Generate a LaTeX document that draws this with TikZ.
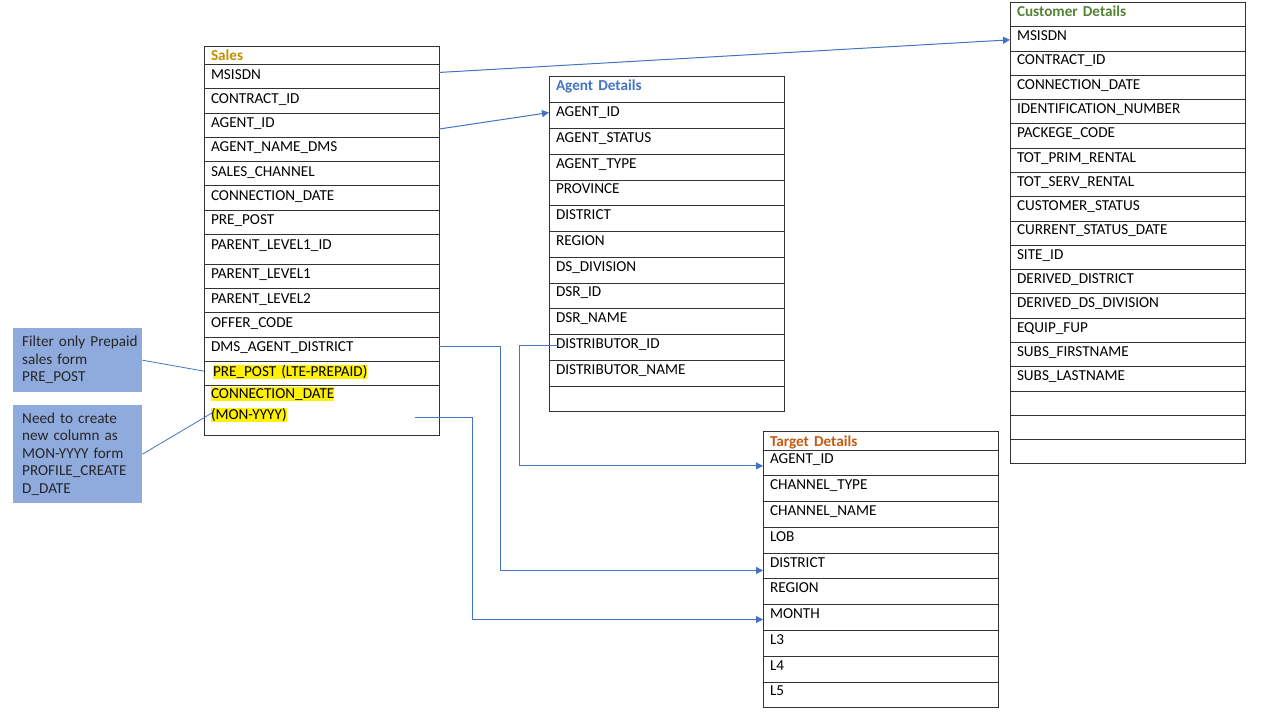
\documentclass[tikz,border=0pt]{standalone}
\usepackage{fontspec}
\setmainfont{Carlito}
\usetikzlibrary{positioning, arrows.meta}

\definecolor{salesgold}{HTML}{BF9000}
\definecolor{agentblue}{HTML}{4472C4}
\definecolor{custgreen}{HTML}{548235}
\definecolor{targetorange}{HTML}{C55A11}
\definecolor{notefill}{HTML}{8FAADC}
\definecolor{linkblue}{HTML}{4472C4}

\newcommand{\hlyellow}[1]{{\setlength{\fboxsep}{0pt}\colorbox{yellow}{\rule[-2.7pt]{0pt}{14pt}#1}}}

\begin{document}
\begin{tikzpicture}[x=1pt, y=-1pt,
     node distance = 0pt,
every node/.style = {font=\fontsize{15.2}{17.5}\selectfont},
field/.style 2 args = {rectangle, draw=black!80, line width=0.8pt,
                     outer sep=0pt, inner xsep=7pt, inner ysep=0pt,
                     text width=221pt, align=left,
                     minimum height=#1, text height=11pt, text depth=#2},
       head/.style = {font=\fontsize{15.2}{17.5}\selectfont\bfseries, text=#1},
       srow/.style = {field={24.3pt}{5.9pt}},
       arow/.style = {field={25.75pt}{8.7pt}},
       crow/.style = {field={24.28pt}{7.3pt}},
       trow/.style = {field={25.77pt}{8.8pt}},
       note/.style = {rectangle, fill=notefill, text=black!85,
                     inner xsep=9pt, inner ysep=0pt, text width=111pt,
                     align=left, minimum height=#1, anchor=north west},
       link/.style = {draw=linkblue, line width=1pt},
                 >= {Triangle[length=7pt,width=7pt]}
                        ]
\useasboundingbox (0,0) rectangle (1280,720);
% Sales
\node (sales) [field={18.3pt}{0pt}, head=salesgold, anchor=north west] at (204,46) {Sales};
\node (smsisdn) [srow, below=of sales] {MSISDN};
\node (scontract) [srow, below=of smsisdn] {CONTRACT\_ID};
\node (sagent) [srow, below=of scontract] {AGENT\_ID};
\node (sname) [srow, below=of sagent] {AGENT\_NAME\_DMS};
\node (schannel) [srow, below=of sname] {SALES\_CHANNEL};
\node (sconn) [srow, below=of schannel] {CONNECTION\_DATE};
\node (sprepost) [srow, below=of sconn] {PRE\_POST};
\node (spl1id) [field={29.7pt}{11.3pt}, below=of sprepost] {PARENT\_LEVEL1\_ID};
\node (spl1) [srow, below=of spl1id] {PARENT\_LEVEL1};
\node (spl2) [srow, below=of spl1] {PARENT\_LEVEL2};
\node (soffer) [srow, below=of spl2] {OFFER\_CODE};
\node (sdms) [srow, below=of soffer] {DMS\_AGENT\_DISTRICT};
\node (sfilter) [srow, below=of sdms] {\hspace{2pt}\hlyellow{PRE\_POST (LTE-PREPAID)}};
\node (smonth) [field={49.7pt}{34.7pt}, font=\fontsize{15.2}{21}\selectfont,
                below=of sfilter] {\hlyellow{CONNECTION\_DATE}\\\hlyellow{(MON-YYYY)}};
% Agent Details
\node (agent) [field={26pt}{9pt}, head=agentblue, anchor=north west] at (549,76.7) {Agent Details};
\node (aid) [arow, below=of agent] {AGENT\_ID};
\node (astatus) [arow, below=of aid] {AGENT\_STATUS};
\node (atype) [arow, below=of astatus] {AGENT\_TYPE};
\node (aprov) [arow, below=of atype] {PROVINCE};
\node (adist) [arow, below=of aprov] {DISTRICT};
\node (aregion) [arow, below=of adist] {REGION};
\node (adsdiv) [arow, below=of aregion] {DS\_DIVISION};
\node (adsrid) [arow, below=of adsdiv] {DSR\_ID};
\node (adsrname) [arow, below=of adsrid] {DSR\_NAME};
\node (adistrib) [arow, below=of adsrname] {DISTRIBUTOR\_ID};
\node (adistname) [arow, below=of adistrib] {DISTRIBUTOR\_NAME};
\node (ablank) [arow, below=of adistname] {};
% Customer Details
\node (cust) [field={24pt}{7pt}, head=custgreen, anchor=north west] at (1010,2.7) {Customer Details};
\node (cmsisdn) [crow, below=of cust] {MSISDN};
\node (ccontract) [crow, below=of cmsisdn] {CONTRACT\_ID};
\node (cconn) [crow, below=of ccontract] {CONNECTION\_DATE};
\node (cidnum) [crow, below=of cconn] {IDENTIFICATION\_NUMBER};
\node (cpack) [crow, below=of cidnum] {PACKEGE\_CODE};
\node (cprim) [crow, below=of cpack] {TOT\_PRIM\_RENTAL};
\node (cserv) [crow, below=of cprim] {TOT\_SERV\_RENTAL};
\node (cstatus) [crow, below=of cserv] {CUSTOMER\_STATUS};
\node (cstdate) [crow, below=of cstatus] {CURRENT\_STATUS\_DATE};
\node (csite) [crow, below=of cstdate] {SITE\_ID};
\node (cddist) [crow, below=of csite] {DERIVED\_DISTRICT};
\node (cddiv) [crow, below=of cddist] {DERIVED\_DS\_DIVISION};
\node (cequip) [crow, below=of cddiv] {EQUIP\_FUP};
\node (cfirst) [crow, below=of cequip] {SUBS\_FIRSTNAME};
\node (clast) [crow, below=of cfirst] {SUBS\_LASTNAME};
\node (cblank1) [crow, below=of clast] {};
\node (cblank2) [crow, below=of cblank1] {};
\node (cblank3) [crow, below=of cblank2] {};
% Target Details
\node (target) [field={18.3pt}{0pt}, head=targetorange, anchor=north west] at (763,431.7) {Target Details};
\node (tagent) [trow, below=of target] {AGENT\_ID};
\node (ttype) [trow, below=of tagent] {CHANNEL\_TYPE};
\node (tname) [trow, below=of ttype] {CHANNEL\_NAME};
\node (tlob) [trow, below=of tname] {LOB};
\node (tdistrict) [trow, below=of tlob] {DISTRICT};
\node (tregion) [trow, below=of tdistrict] {REGION};
\node (tmonth) [trow, below=of tregion] {MONTH};
\node (tl3) [trow, below=of tmonth] {L3};
\node (tl4) [trow, below=of tl3] {L4};
\node (tl5) [trow, below=of tl4] {L5};
% notes
\node (filter) [note=64pt] at (13,328) {\mbox{Filter only Prepaid}\\sales form\\PRE\_POST};
\node (create) [note=98pt] at (13,405) {Need to create\\new column as\\\mbox{MON-YYYY form}\\\mbox{PROFILE\_CREATE}\\D\_DATE};
% links
\draw[link, ->] ([yshift=4pt]smsisdn.east) to ([yshift=-1pt]cmsisdn.west);
\draw[link, ->] ([yshift=-4pt]sagent.east) to ([yshift=3pt]aid.west);
\draw[link, ->] ([yshift=3pt]sdms.east) -- ++(61,0) |- ([yshift=-4.5pt]tdistrict.west);
\draw[link, ->] ([xshift=9pt,yshift=2pt]adistrib.west) -- ++(-39,0) |- ([yshift=-3pt]tagent.west);
\draw[link, ->] ([xshift=-24pt,yshift=-7pt]smonth.east) -- ++(57,0) |- ([yshift=-2pt]tmonth.west);
\draw[link, line width=0.8pt] (filter.east) -- ([yshift=2.3pt]sfilter.west);
\draw[link, line width=0.8pt] (create.east) -- ([xshift=8pt,yshift=-2.5pt]smonth.west);
\end{tikzpicture}
\end{document}
